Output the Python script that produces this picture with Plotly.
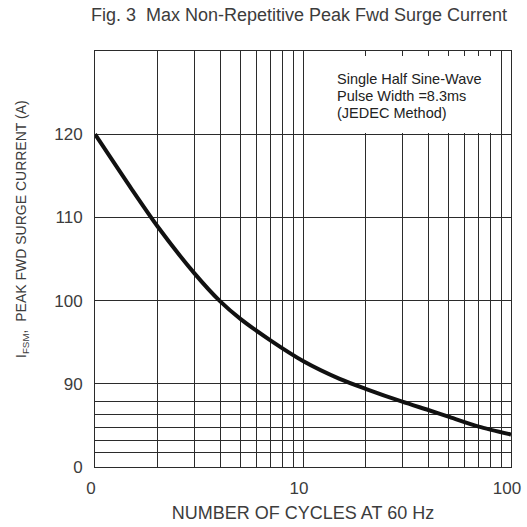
import plotly.graph_objects as go

# ---- data ----
cycles = [1, 1.5, 2, 3, 4, 5, 7, 10, 15, 20, 30, 40, 50, 70, 100]
surge_current = [120, 113.4, 108.9, 103.3, 99.9, 97.8, 95.2, 92.75, 90.6, 89.4, 87.85, 86.85, 86.05, 84.85, 83.9]

x_tickvals = [1, 10, 100]
x_ticktext = ["0", "10", "100"]
x_minor_vals = [2, 3, 4, 5, 6, 7, 8, 9, 20, 30, 40, 50, 60, 70, 80, 90]
y_tickvals = [80, 90, 100, 110, 120]
y_ticktext = ["0", "90", "100", "110", "120"]
y_minor_vals = [81.8, 83.2, 84.7, 86.3, 87.9]

title_text = "Fig. 3  Max Non-Repetitive Peak Fwd Surge Current"
x_title = "NUMBER OF CYCLES AT 60 Hz"
y_title = "I<sub>FSM</sub>,  PEAK FWD SURGE CURRENT (A)"
note_lines = ["Single Half Sine-Wave", "Pulse Width =8.3ms", "(JEDEC Method)"]

FONT = "Liberation Sans, Arial, sans-serif"
TXT = "#3c3c3c"
GRID = "#2b2b2b"

fig = go.Figure()
fig.add_trace(go.Scatter(
    x=cycles, y=surge_current, mode="lines",
    line=dict(color="#111111", width=4, shape="spline", smoothing=0.7),
    showlegend=False, hoverinfo="skip",
))

fig.update_layout(
    width=527, height=527,
    margin=dict(l=95, r=16, t=51, b=60, autoexpand=False),
    paper_bgcolor="white", plot_bgcolor="white",
    font=dict(family=FONT, color=TXT, size=16),
    title=dict(text=title_text, xref="container", yref="container",
               x=299 / 527, y=1 - 15 / 527, xanchor="center", yanchor="middle",
               font=dict(size=18, color=TXT, family=FONT)),
    xaxis=dict(
        type="log", range=[0, 2], automargin=False,
        tickmode="array", tickvals=x_tickvals, ticktext=x_ticktext,
        showgrid=True, gridcolor=GRID, gridwidth=1,
        minor=dict(tickmode="array", tickvals=x_minor_vals, showgrid=True,
                   gridcolor=GRID, gridwidth=1, ticks=""),
        showline=True, linecolor=GRID, linewidth=1, mirror=True,
        ticks="", tickfont=dict(size=17, color=TXT), ticklabelstandoff=6, ticklabelshift=-4,
        title=dict(text=x_title, font=dict(size=18, color=TXT), standoff=8),
        zeroline=False,
    ),
    yaxis=dict(
        range=[80, 130], automargin=False,
        tickmode="array", tickvals=y_tickvals, ticktext=y_ticktext,
        showgrid=True, gridcolor=GRID, gridwidth=1,
        minor=dict(tickmode="array", tickvals=y_minor_vals, showgrid=True,
                   gridcolor=GRID, gridwidth=1, ticks=""),
        showline=True, linecolor=GRID, linewidth=1, mirror=True,
        ticks="", tickfont=dict(size=17, color=TXT), ticklabelstandoff=8,
        zeroline=False,
    ),
    shapes=[dict(type="rect", xref="paper", yref="y", x0=0.503, x1=0.968,
                 y0=120.15, y1=129.4, fillcolor="white", line=dict(width=0),
                 layer="above")],
)

annotations = [dict(text=y_title, xref="paper", yref="paper",
                    x=(22 - 95) / 416, y=(467 - 229) / 416, textangle=-90,
                    showarrow=False, xanchor="center", yanchor="middle",
                    font=dict(size=14, color=TXT, family=FONT))]
note_y = [79, 96, 113]
for line, py in zip(note_lines, note_y):
    annotations.append(dict(text=line, xref="paper", yref="paper",
                            x=(335 - 95) / 416, y=(467 - py) / 416,
                            xanchor="left", yanchor="middle", showarrow=False,
                            font=dict(size=14.5, color="#222222", family=FONT)))
fig.update_layout(annotations=annotations)

fig.write_html("out.html", config={"displayModeBar": False},
               post_script="document.body.style.margin='0';")
